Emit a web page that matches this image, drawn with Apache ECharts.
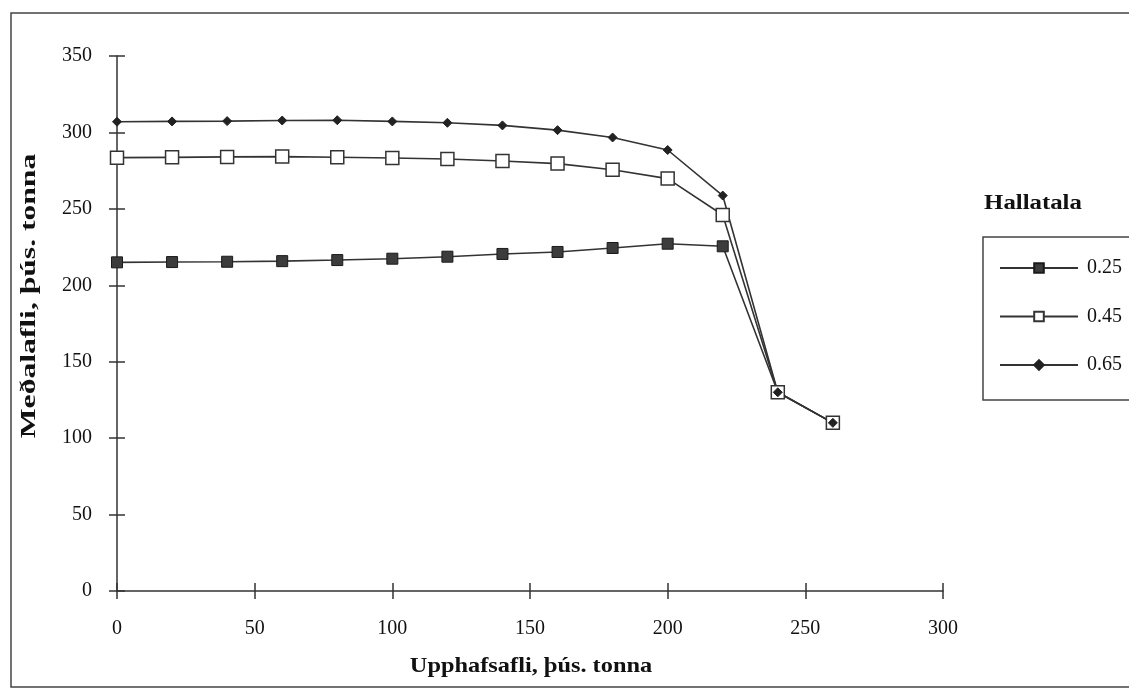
<!DOCTYPE html>
<html>
<head>
<meta charset="utf-8">
<script src="https://cdn.jsdelivr.net/npm/echarts@6/dist/echarts.min.js"></script>
<style>html,body{margin:0;padding:0;background:#fff}#c{width:1129px;height:689px}</style>
</head>
<body>
<div id="c"></div>
<script>
var xValues = [0, 20, 40, 60, 80, 100, 120, 140, 160, 180, 200, 220, 240, 260];
var s025 = [215, 215.2, 215.4, 215.8, 216.5, 217.4, 218.7, 220.5, 221.8, 224.4, 227.2, 225.5, 130, 110];
var s045 = [283.5, 283.7, 284, 284.2, 283.8, 283.3, 282.6, 281.3, 279.6, 275.6, 269.8, 246, 130, 110];
var s065 = [307, 307.2, 307.4, 307.8, 308, 307.2, 306.3, 304.6, 301.5, 296.7, 288.5, 258.7, 130, 110];
var seriesNames = ['0.25', '0.45', '0.65'];
var xTitle = 'Upphafsafli, þús. tonna';
var yTitle = 'Meðalafli, þús. tonna';
var legendTitle = 'Hallatala';

function pairs(vals) { return xValues.map(function (x, i) { return [x, vals[i]]; }); }

var font = '"Liberation Serif", "DejaVu Serif", serif';
var axisCol = '#333';
var chart = echarts.init(document.getElementById('c'));
var lineStyle = { color: '#333', width: 1.6 };

chart.setOption({
  animation: false,
  backgroundColor: '#fff',
  grid: { left: 117, right: 186, top: 56, bottom: 98 },
  xAxis: [{
    type: 'value', min: 0, max: 300, interval: 50,
    axisLine: { lineStyle: { color: axisCol, width: 1.5 } },
    axisTick: { show: true, length: 8, lineStyle: { color: axisCol, width: 1.5 } },
    axisLabel: { color: '#111', fontFamily: font, fontSize: 20, margin: 28 },
    splitLine: { show: false }
  }, {
    type: 'value', min: 0, max: 300, interval: 50, position: 'bottom',
    axisLine: { show: false },
    axisTick: { show: true, inside: true, length: 8, lineStyle: { color: axisCol, width: 1.5 } },
    axisLabel: { show: false }, splitLine: { show: false }
  }],
  yAxis: [{
    type: 'value', min: 0, max: 350, interval: 50,
    axisLine: { show: true, lineStyle: { color: axisCol, width: 1.5 } },
    axisTick: { show: true, length: 8, lineStyle: { color: axisCol, width: 1.5 } },
    axisLabel: { color: '#111', fontFamily: font, fontSize: 20, margin: 25 },
    splitLine: { show: false }
  }, {
    type: 'value', min: 0, max: 350, interval: 50, position: 'left',
    axisLine: { show: false },
    axisTick: { show: true, inside: true, length: 8, lineStyle: { color: axisCol, width: 1.5 } },
    axisLabel: { show: false }, splitLine: { show: false }
  }],
  legend: {
    orient: 'vertical', left: 983, top: 237,
    backgroundColor: '#fff', borderColor: '#444', borderWidth: 1.5, borderRadius: 0,
    padding: [21, 60, 25, 16],
    itemWidth: 78, itemHeight: 12, itemGap: 28.5,
    textStyle: { fontFamily: font, fontSize: 20, color: '#111', padding: [0, 0, 0, 4] },
    data: seriesNames
  },
  series: [{
    name: seriesNames[0], type: 'line', data: pairs(s025),
    symbol: 'rect', symbolSize: 11, showAllSymbol: true,
    lineStyle: lineStyle,
    itemStyle: { color: '#3c3c3c', borderColor: '#1a1a1a', borderWidth: 1 }
  }, {
    name: seriesNames[1], type: 'line', data: pairs(s045),
    symbol: 'rect', symbolSize: 13, showAllSymbol: true,
    lineStyle: lineStyle,
    itemStyle: { color: '#fff', borderColor: '#333', borderWidth: 1.5 }
  }, {
    name: seriesNames[2], type: 'line', data: pairs(s065),
    symbol: 'diamond', symbolSize: 9, showAllSymbol: true,
    lineStyle: lineStyle,
    itemStyle: { color: '#222', borderColor: '#222', borderWidth: 1 }
  }],
  graphic: [{
    type: 'rect', silent: true, z: -1,
    shape: { x: 11, y: 13, width: 1200, height: 674 },
    style: { fill: 'none', stroke: '#444', lineWidth: 1.5 }
  }, {
    type: 'text', silent: true,
    x: 531, y: 667, scaleX: 1.16,
    style: { text: xTitle, fill: '#111', font: 'bold 21px ' + font, textAlign: 'center', textVerticalAlign: 'middle' }
  }, {
    type: 'text', silent: true,
    x: 30, y: 296, rotation: Math.PI / 2, scaleX: 1.58,
    style: { text: yTitle, fill: '#111', font: 'bold 20px ' + font, textAlign: 'center', textVerticalAlign: 'middle' }
  }, {
    type: 'text', silent: true,
    x: 1033, y: 204, scaleX: 1.24,
    style: { text: legendTitle, fill: '#111', font: 'bold 20px ' + font, textAlign: 'center', textVerticalAlign: 'middle' }
  }]
});
</script>
</body>
</html>
